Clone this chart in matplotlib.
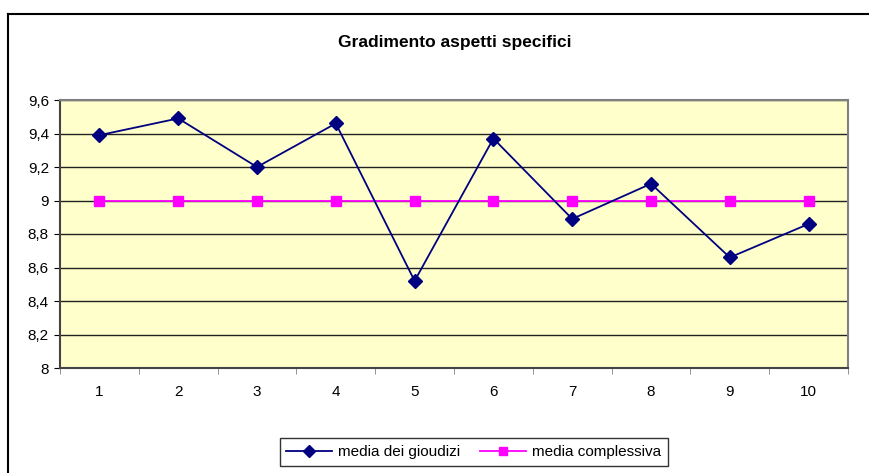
import matplotlib
matplotlib.use("Agg")
import matplotlib.pyplot as plt
from matplotlib.lines import Line2D
from matplotlib.ticker import FuncFormatter

plt.rcParams['font.family'] = ['Liberation Sans', 'DejaVu Sans']

# data
aspetti = [1, 2, 3, 4, 5, 6, 7, 8, 9, 10]
media_giudizi = [9.39, 9.49, 9.20, 9.46, 8.52, 9.37, 8.89, 9.10, 8.66, 8.86]
media_complessiva = [9.0] * 10
y_ticks = [8.0, 8.2, 8.4, 8.6, 8.8, 9.0, 9.2, 9.4, 9.6]

fig = plt.figure(figsize=(8.69, 4.73), dpi=100)
ax = fig.add_axes([60/869, 1 - 368/473, 788/869, 268/473])
ax.set_facecolor('#FFFFCC')

ax.plot(aspetti, media_giudizi, color='#000080', marker='D', markersize=7,
        linewidth=1.3, label='media dei gioudizi', zorder=4)
ax.plot(aspetti, media_complessiva, color='#FF00FF', marker='s', markersize=7,
        linewidth=1.3, label='media complessiva', zorder=3)

ax.set_xlim(0.5, 10.5)
ax.set_ylim(8, 9.6)
ax.set_yticks(y_ticks)
ax.yaxis.set_major_formatter(FuncFormatter(
    lambda v, p: ('%g' % round(v, 1)).replace('.', ',')))
ax.set_xticks(aspetti)
ax.set_xticklabels([str(a) for a in aspetti])
ax.set_xticks([a + 0.5 for a in [0] + aspetti], minor=True)
ax.tick_params(axis='x', which='major', length=0, pad=12, labelsize=11)
ax.tick_params(axis='x', which='minor', length=4, direction='out', color='#808080')
ax.tick_params(axis='y', length=4, direction='out', labelsize=11, pad=4)

ax.grid(axis='y', color='#222222', linewidth=1)
ax.set_axisbelow(True)
for s in ['top', 'right']:
    ax.spines[s].set_color('#808080')
    ax.spines[s].set_linewidth(1.5)
for s in ['left', 'bottom']:
    ax.spines[s].set_color('#444444')
    ax.spines[s].set_linewidth(1.5)

fig.text(455/869, 1 - 42/473, 'Gradimento aspetti specifici',
         ha='center', va='center', fontsize=12.5, fontweight='bold')

leg = fig.legend(loc='center', bbox_to_anchor=(474/869, 1 - 452/473), ncol=2,
                 frameon=True, fancybox=False, fontsize=11, handlelength=3.0,
                 handletextpad=0.4, columnspacing=1.3, borderpad=0.45,
                 markerscale=0.85)
leg.get_frame().set_edgecolor('black')
leg.get_frame().set_linewidth(1)

# outer chart border (left and top only visible)
fig.add_artist(Line2D([8/869, 8/869], [0, 1 - 14/473], color='black',
                      linewidth=1.5, transform=fig.transFigure))
fig.add_artist(Line2D([8/869, 1], [1 - 14/473, 1 - 14/473], color='black',
                      linewidth=1.5, transform=fig.transFigure))

fig.savefig('out.png', dpi=100)
